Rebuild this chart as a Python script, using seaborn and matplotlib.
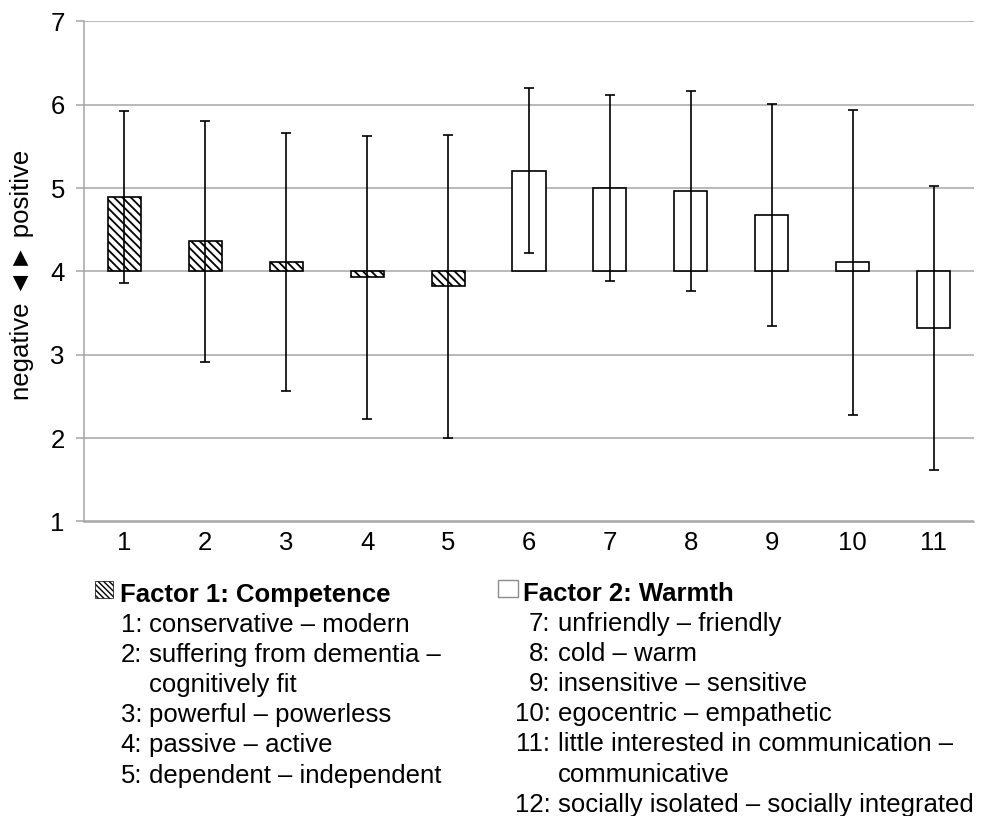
import matplotlib
matplotlib.use("Agg")
import matplotlib.pyplot as plt
from matplotlib.patches import Rectangle
import seaborn as sns
import numpy as np

# ------------------------------------------------------------------
# data (means on a 1-7 scale, error bars = +/- SD)
# ------------------------------------------------------------------
items = ["1", "2", "3", "4", "5", "6", "7", "8", "9", "10", "11"]
means = [4.89, 4.36, 4.11, 3.93, 3.82, 5.21, 5.00, 4.96, 4.68, 4.11, 3.32]
sds = [1.03, 1.45, 1.55, 1.70, 1.82, 0.99, 1.12, 1.20, 1.33, 1.83, 1.70]
n_competence = 5
baseline = 4
yticks = [1, 2, 3, 4, 5, 6, 7]

factor1_title = "Factor 1: Competence"
factor1_items = [
    ("1:", "conservative \u2013 modern"),
    ("2:", "suffering from dementia \u2013"),
    ("", "cognitively fit"),
    ("3:", "powerful \u2013 powerless"),
    ("4:", "passive \u2013 active"),
    ("5:", "dependent \u2013 independent"),
]
factor2_title = "Factor 2: Warmth"
factor2_items = [
    ("7:", "unfriendly \u2013 friendly"),
    ("8:", "cold \u2013 warm"),
    ("9:", "insensitive \u2013 sensitive"),
    ("10:", "egocentric \u2013 empathetic"),
    ("11:", "little interested in communication \u2013"),
    ("", "communicative"),
    ("12:", "socially isolated \u2013 socially integrated"),
]

sns.set_style("white")
plt.rcParams["font.family"] = ["Liberation Sans", "DejaVu Sans"]
plt.rcParams["hatch.linewidth"] = 1.3
for k in ["text.color", "axes.labelcolor", "xtick.color", "ytick.color"]:
    plt.rcParams[k] = "black"

GRID = "#a6a6a6"
FS = 18.5
W, H = 989, 816
HATCH = "\\" * 4

fig = plt.figure(figsize=(W / 100, H / 100), dpi=100)
ax = fig.add_axes([84 / W, 1 - 521.5 / H, 890 / W, 500 / H])

heights = [m - baseline for m in means]
sns.barplot(x=items, y=heights, bottom=baseline, order=items, color="white",
            edgecolor="black", linewidth=1.2, width=0.41, errorbar=None,
            ax=ax, zorder=2)
for i, p in enumerate(ax.patches):
    p.set_facecolor("white")
    p.set_edgecolor("black")
    if i < n_competence:
        p.set_hatch(HATCH)

ax.errorbar(np.arange(len(items)), means, yerr=sds, fmt="none", ecolor="black",
            elinewidth=1.2, capsize=3.3, capthick=1.2, zorder=3)

ax.set_ylim(1, 7)
ax.set_xlim(-0.5, len(items) - 0.5)
ax.set_yticks(yticks)
ax.set_axisbelow(True)
ax.yaxis.grid(True, color=GRID, linewidth=1.1)
ax.xaxis.grid(False)
for s in ["top", "right"]:
    ax.spines[s].set_visible(False)
for s in ["left", "bottom"]:
    ax.spines[s].set_color(GRID)
    ax.spines[s].set_linewidth(1.1)
ax.tick_params(axis="y", length=5.8, width=1.1, color=GRID, labelcolor="black",
               pad=8, labelsize=FS, left=True)
ax.tick_params(axis="x", length=0, pad=7, labelsize=FS, labelcolor="black")
ax.set_xlabel("")
ax.set_ylabel("negative \u25c4\u25ba positive", fontsize=FS, color="black")
ax.yaxis.set_label_coords((34 - 84) / 890, 0.493)

# ------------------------------------------------------------------
# legend / item key below the plot
# ------------------------------------------------------------------
def fy(px):
    return 1 - px / H

plt.rcParams["hatch.linewidth"] = 1.0
fig.add_artist(Rectangle((95 / W, fy(598)), 18 / W, 17 / H, transform=fig.transFigure,
                         facecolor="white", edgecolor="black", linewidth=0.5,
                         hatch="\\" * 6))
fig.add_artist(Rectangle((498 / W, fy(597)), 20 / W, 17 / H, transform=fig.transFigure,
                         facecolor="white", edgecolor="#8c8c8c", linewidth=1.0))

line_h = 30.15
fig.text(120.5 / W, fy(601.7), factor1_title, fontsize=FS, fontweight="bold",
         va="baseline", ha="left")
for k, (num, txt) in enumerate(factor1_items):
    y = fy(601.7 + (k + 1) * line_h)
    if num:
        fig.text(142.3 / W, y, num, fontsize=FS, va="baseline", ha="right")
    fig.text(148.8 / W, y, txt, fontsize=FS, va="baseline", ha="left")

fig.text(523.3 / W, fy(600.7), factor2_title, fontsize=FS, fontweight="bold",
         va="baseline", ha="left")
for k, (num, txt) in enumerate(factor2_items):
    y = fy(600.7 + (k + 1) * line_h)
    if num:
        fig.text(550.5 / W, y, num, fontsize=FS, va="baseline", ha="right")
    fig.text(557.7 / W, y, txt, fontsize=FS, va="baseline", ha="left")

fig.savefig("out.png", dpi=100)
